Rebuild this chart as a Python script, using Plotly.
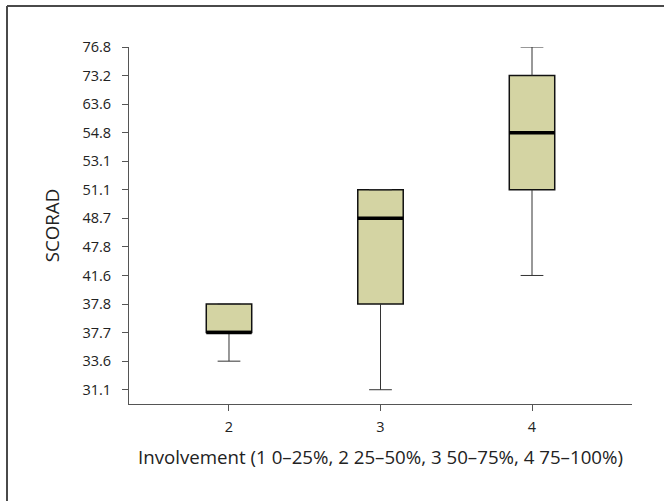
import plotly.graph_objects as go

# Ordinal y-axis levels (as printed on the axis)
score_levels = ["31.1", "33.6", "37.7", "37.8", "41.6", "47.8", "48.7",
                "51.1", "53.1", "54.8", "63.6", "73.2", "76.8"]

groups = [2, 3, 4]
lower_whisker = ["33.6", "31.1", "41.6"]
q1_vals = ["37.7", "37.8", "51.1"]
median_vals = ["37.7", "48.7", "54.8"]
q3_vals = ["37.8", "51.1", "73.2"]
upper_whisker = ["37.8", "51.1", "76.8"]

def rank(v):
    return score_levels.index(v)

lo = [rank(v) for v in lower_whisker]
q1 = [rank(v) for v in q1_vals]
med = [rank(v) for v in median_vals]
q3 = [rank(v) for v in q3_vals]
hi = [rank(v) for v in upper_whisker]

BOX_W = 0.30
CAP_HALF = BOX_W / 4
FILL = "#D4D4A3"
TXT = "#222222"

fig = go.Figure()

# whiskers
wx, wy = [], []
for g, a, b, c, d in zip(groups, lo, q1, q3, hi):
    wx += [g, g, None, g, g, None,
           g - CAP_HALF, g + CAP_HALF, None, g - CAP_HALF, g + CAP_HALF, None]
    wy += [a, b, None, c, d, None, a, a, None, d, d, None]
fig.add_trace(go.Scatter(x=wx, y=wy, mode="lines",
                         line=dict(color="#333333", width=1),
                         hoverinfo="skip", showlegend=False))

# boxes
fig.add_trace(go.Box(x=groups, q1=q1, median=med, q3=q3,
                     lowerfence=q1, upperfence=q3,
                     width=BOX_W, whiskerwidth=0,
                     fillcolor=FILL, line=dict(color="#111111", width=1.5),
                     showlegend=False))

# medians (thicker)
mx, my = [], []
for g, m in zip(groups, med):
    mx += [g - BOX_W / 2, g + BOX_W / 2, None]
    my += [m, m, None]
fig.add_trace(go.Scatter(x=mx, y=my, mode="lines",
                         line=dict(color="#000000", width=3.5),
                         hoverinfo="skip", showlegend=False))

W, H = 664, 501
L, R, T, B = 129, 32, 47, 97
pw, ph = W - L - R, H - T - B

def px(x):
    return (x - L) / pw

def py(y):
    return (H - B - y) / ph

frame = dict(color="#4a4a4a", width=2)
fig.add_shape(type="line", xref="paper", yref="paper",
              x0=px(7), x1=px(7), y0=py(6), y1=py(H + 5), line=frame)
fig.add_shape(type="line", xref="paper", yref="paper",
              x0=px(7), x1=px(W + 5), y0=py(6), y1=py(6), line=frame)

fig.update_layout(
    width=W, height=H,
    margin=dict(l=L, r=R, t=T, b=B),
    paper_bgcolor="white", plot_bgcolor="white",
    font=dict(family="Open Sans", size=14, color=TXT),
    xaxis=dict(range=[1.34, 4.66], tickvals=groups,
               ticktext=[str(g) for g in groups],
               tickfont=dict(size=14.5, color=TXT),
               showline=True, linecolor="#555555", linewidth=1,
               ticks="outside", ticklen=6, tickcolor="#555555",
               ticklabelstandoff=4,
               showgrid=False, zeroline=False,
               title=dict(text="Involvement (1 0–25%, 2 25–50%, 3 50–75%, 4 75–100%)",
                          font=dict(size=18.7, color=TXT), standoff=15)),
    yaxis=dict(range=[-0.5, 12], tickvals=list(range(len(score_levels))),
               ticktext=score_levels,
               tickfont=dict(size=14.5, color=TXT),
               showline=True, linecolor="#555555", linewidth=1,
               ticks="outside", ticklen=6, tickcolor="#555555",
               ticklabelstandoff=8,
               showgrid=False, zeroline=False,
               title=dict(text="SCORAD", font=dict(size=18.7, color=TXT),
                          standoff=17)),
)

fig.write_html("out.html", config={"displayModeBar": False},
               post_script="document.body.style.margin='0';"
                           "document.body.style.overflow='hidden';")
